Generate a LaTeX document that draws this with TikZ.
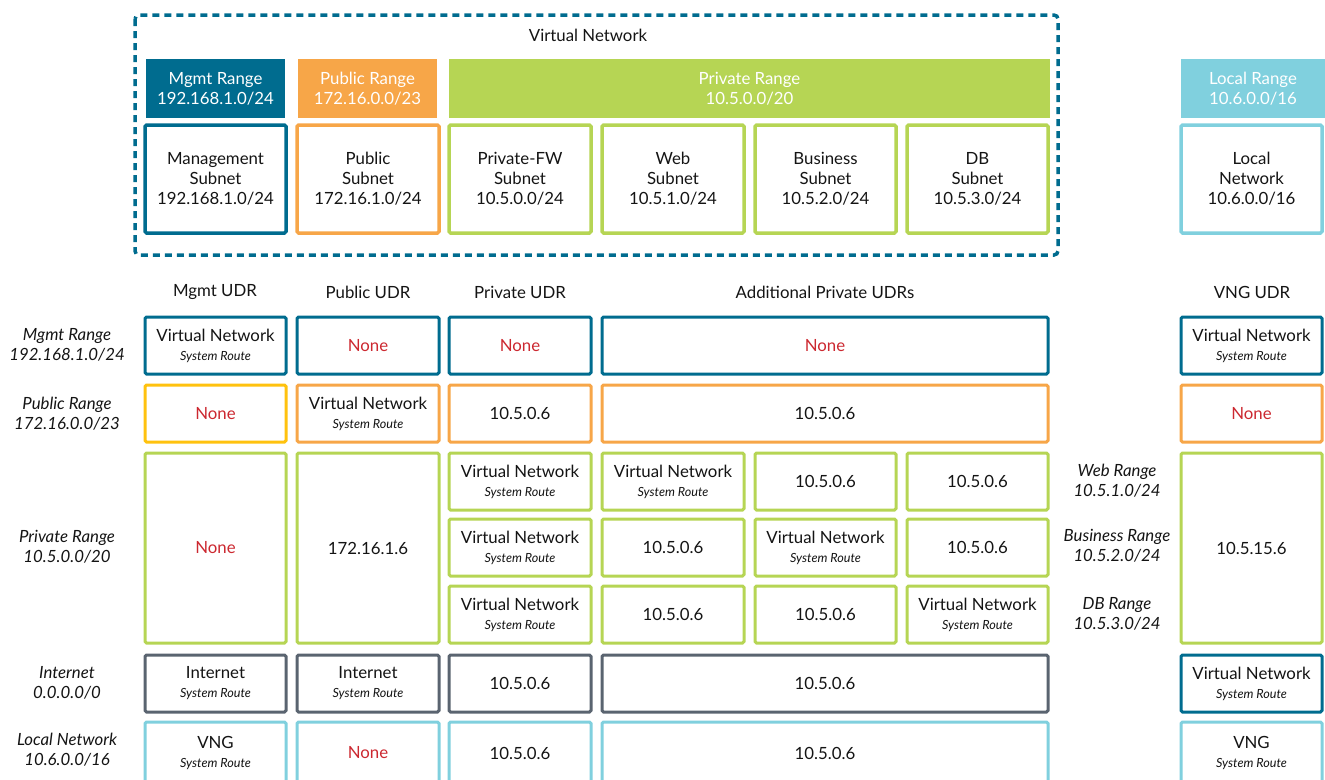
\documentclass[tikz,border=0pt]{standalone}
\usepackage{fontspec}
\setmainfont{Lato}
\definecolor{mgmtblue}{RGB}{0,108,143}
\definecolor{puborange}{RGB}{247,166,72}
\definecolor{privgreen}{RGB}{182,213,84}
\definecolor{localcyan}{RGB}{128,208,222}
\definecolor{netgray}{RGB}{90,100,112}
\definecolor{warnyellow}{RGB}{255,194,14}
\definecolor{nonered}{RGB}{204,40,48}
\definecolor{inktext}{RGB}{20,20,20}

% node placed by the corners of its outline (stroke centre line)
\newcommand\boxat[7]{%
  \node[#6, minimum width={#4-#2}, minimum height={#5-#3}]
    (#1) at ({(#2+#4)/2},{(#3+#5)/2}) {#7};}
\newcommand\sysroute[1]{#1\\[-1pt]{\fontsize{12.6}{14}\selectfont\itshape System Route}}
\newcommand\nonetxt{\textcolor{nonered}{None}}

\begin{document}
\begin{tikzpicture}[x=1pt,y=-1pt,
  txt/.style={font=\fontsize{16.8}{20}\selectfont, text=inktext, align=center, inner sep=0pt},
  rowlabel/.style={txt, font=\fontsize{16.8}{20}\selectfont\itshape},
  cell/.style={txt, draw=#1, line width=3pt, rounded corners=1.5pt, fill=white},
  subnet/.style={txt, draw=#1, line width=3.5pt, rounded corners=1.5pt, fill=white},
  range/.style={txt, fill=#1, text=white},
]
\useasboundingbox (0,0) rectangle (1325,779);

% ---------- virtual network outline ----------
\draw[mgmtblue, line width=3.5pt, dash pattern=on 7pt off 5pt, rounded corners=4pt]
  (135,15) rectangle (1058,255);
\node[txt] (vnettitle) at (588,35) {Virtual Network};

% ---------- address ranges ----------
\boxat{rmgmt}{146}{59}{285}{118}{range=mgmtblue}{Mgmt Range\\192.168.1.0/24}
\boxat{rpub}{298}{59}{437}{118}{range=puborange}{Public Range\\172.16.0.0/23}
\boxat{rpriv}{449}{59}{1050}{118}{range=privgreen}{Private Range\\10.5.0.0/20}
\boxat{rlocal}{1181}{59}{1325}{118}{range=localcyan}{Local Range\\10.6.0.0/16}

% ---------- subnets ----------
\boxat{smgmt}{145}{125}{286}{233}{subnet=mgmtblue}{Management\\Subnet\\192.168.1.0/24}
\boxat{spub}{297}{125}{439}{233}{subnet=puborange}{Public\\Subnet\\172.16.1.0/24}
\boxat{sfw}{449}{125}{591}{233}{subnet=privgreen}{Private-FW\\Subnet\\10.5.0.0/24}
\boxat{sweb}{602}{125}{744}{233}{subnet=privgreen}{Web\\Subnet\\10.5.1.0/24}
\boxat{sbiz}{755}{125}{896}{233}{subnet=privgreen}{Business\\Subnet\\10.5.2.0/24}
\boxat{sdb}{907}{125}{1048}{233}{subnet=privgreen}{DB\\Subnet\\10.5.3.0/24}
\boxat{slocal}{1181}{125}{1322}{233}{subnet=localcyan}{Local\\Network\\10.6.0.0/16}

% ---------- route table headings ----------
\node[txt] (hmgmt) at (215,292) {Mgmt UDR};
\node[txt] (hpub) at (368,292) {Public UDR};
\node[txt] (hpriv) at (520,292) {Private UDR};
\node[txt] (hadd) at (825,292) {Additional Private UDRs};
\node[txt] (hvng) at (1252,292) {VNG UDR};

% ---------- destination labels ----------
\node[rowlabel] (lmgmt) at (67,345) {Mgmt Range\\192.168.1.0/24};
\node[rowlabel] (lpub) at (67,414) {Public Range\\172.16.0.0/23};
\node[rowlabel] (lpriv) at (67,547) {Private Range\\10.5.0.0/20};
\node[rowlabel] (linet) at (67,683) {Internet\\0.0.0.0/0};
\node[rowlabel] (llocal) at (67,750) {Local Network\\10.6.0.0/16};
\node[rowlabel] (lweb) at (1117,481) {Web Range\\10.5.1.0/24};
\node[rowlabel] (lbiz) at (1117,546) {Business Range\\10.5.2.0/24};
\node[rowlabel] (ldb) at (1117,614) {DB Range\\10.5.3.0/24};

% ---------- row: Mgmt Range ----------
\boxat{a1}{145}{317}{286}{374}{cell=mgmtblue}{\sysroute{Virtual Network}}
\boxat{b1}{297}{317}{439}{374}{cell=mgmtblue}{\nonetxt}
\boxat{c1}{449}{317}{591}{374}{cell=mgmtblue}{\nonetxt}
\boxat{d1}{602}{317}{1048}{374}{cell=mgmtblue}{\nonetxt}
\boxat{e1}{1181}{317}{1322}{374}{cell=mgmtblue}{\sysroute{Virtual Network}}

% ---------- row: Public Range ----------
\boxat{a2}{145}{385}{286}{442}{cell=warnyellow}{\nonetxt}
\boxat{b2}{297}{385}{439}{442}{cell=puborange}{\sysroute{Virtual Network}}
\boxat{c2}{449}{385}{591}{442}{cell=puborange}{10.5.0.6}
\boxat{d2}{602}{385}{1048}{442}{cell=puborange}{10.5.0.6}
\boxat{e2}{1181}{385}{1322}{442}{cell=puborange}{\nonetxt}

% ---------- row: Private Range ----------
\boxat{a3}{145}{453}{286}{643}{cell=privgreen}{\nonetxt}
\boxat{b3}{297}{453}{439}{643}{cell=privgreen}{172.16.1.6}
\boxat{e3}{1181}{453}{1322}{643}{cell=privgreen}{10.5.15.6}
% web
\boxat{c3w}{449}{453}{591}{510}{cell=privgreen}{\sysroute{Virtual Network}}
\boxat{d3w}{602}{453}{744}{510}{cell=privgreen}{\sysroute{Virtual Network}}
\boxat{f3w}{755}{453}{896}{510}{cell=privgreen}{10.5.0.6}
\boxat{g3w}{907}{453}{1048}{510}{cell=privgreen}{10.5.0.6}
% business
\boxat{c3b}{449}{519}{591}{576}{cell=privgreen}{\sysroute{Virtual Network}}
\boxat{d3b}{602}{519}{744}{576}{cell=privgreen}{10.5.0.6}
\boxat{f3b}{755}{519}{896}{576}{cell=privgreen}{\sysroute{Virtual Network}}
\boxat{g3b}{907}{519}{1048}{576}{cell=privgreen}{10.5.0.6}
% db
\boxat{c3d}{449}{586}{591}{643}{cell=privgreen}{\sysroute{Virtual Network}}
\boxat{d3d}{602}{586}{744}{643}{cell=privgreen}{10.5.0.6}
\boxat{f3d}{755}{586}{896}{643}{cell=privgreen}{10.5.0.6}
\boxat{g3d}{907}{586}{1048}{643}{cell=privgreen}{\sysroute{Virtual Network}}

% ---------- row: Internet ----------
\boxat{a4}{145}{655}{286}{712}{cell=netgray}{\sysroute{Internet}}
\boxat{b4}{297}{655}{439}{712}{cell=netgray}{\sysroute{Internet}}
\boxat{c4}{449}{655}{591}{712}{cell=netgray}{10.5.0.6}
\boxat{d4}{602}{655}{1048}{712}{cell=netgray}{10.5.0.6}
\boxat{e4}{1181}{655}{1322}{712}{cell=mgmtblue}{\sysroute{Virtual Network}}

% ---------- row: Local Network ----------
\boxat{a5}{145}{722}{286}{784}{cell=localcyan}{\sysroute{VNG}}
\boxat{b5}{297}{722}{439}{784}{cell=localcyan}{\nonetxt}
\boxat{c5}{449}{722}{591}{784}{cell=localcyan}{10.5.0.6}
\boxat{d5}{602}{722}{1048}{784}{cell=localcyan}{10.5.0.6}
\boxat{e5}{1181}{722}{1322}{784}{cell=localcyan}{\sysroute{VNG}}
\end{tikzpicture}
\end{document}
